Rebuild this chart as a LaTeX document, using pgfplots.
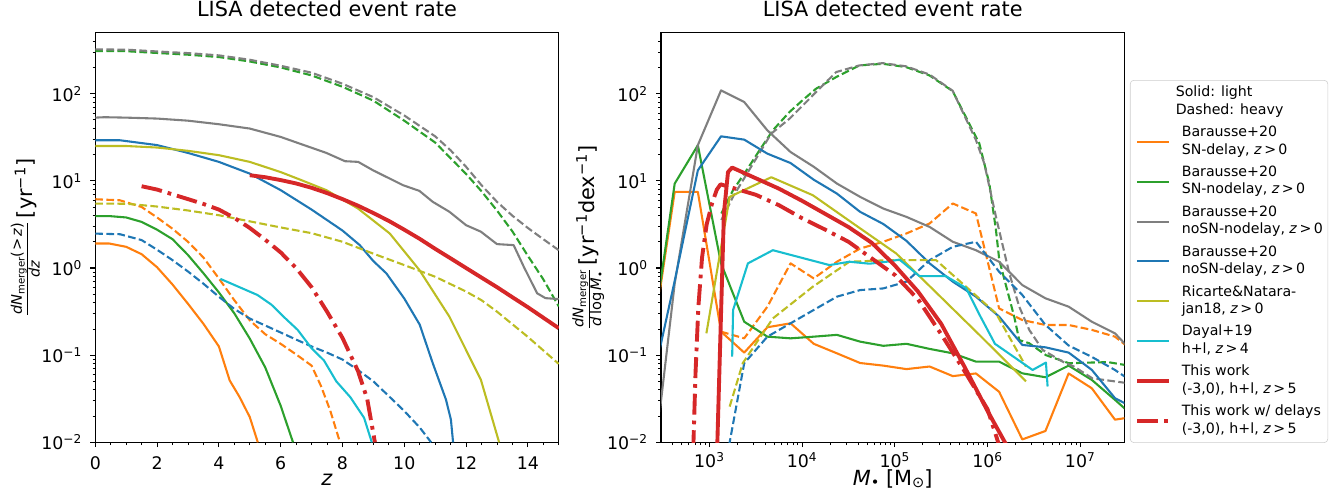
\documentclass[border=0pt]{standalone}
\usepackage{fontspec}
\setmainfont{DejaVu Sans}
\usepackage{pgfplots}
\pgfplotsset{compat=1.18}

% tab10 palette
\definecolor{tabblue}{HTML}{1F77B4}
\definecolor{taborange}{HTML}{FF7F0E}
\definecolor{tabgreen}{HTML}{2CA02C}
\definecolor{tabred}{HTML}{D62728}
\definecolor{tabgray}{HTML}{7F7F7F}
\definecolor{tabolive}{HTML}{BCBD22}
\definecolor{tabcyan}{HTML}{17BECF}

\newcommand{\fs}[1]{\fontsize{#1}{#1}\selectfont}
\newcommand{\tp}[1]{10\textsuperscript{#1}}
\newcommand{\zgt}[1]{\textit{z}\thinspace>\thinspace#1}

\tikzset{
  lightline/.style={line width=1.5pt, line join=round},
  heavyline/.style={line width=1.5pt, line join=round, dash pattern=on 5.55pt off 2.4pt},
  thiswork/.style={line width=2.8pt, line join=round, tabred},
  delays/.style={line width=2.8pt, line join=round, tabred,
    dash pattern=on 15pt off 4.3pt on 2.7pt off 4.3pt},
}

\begin{document}
\begin{tikzpicture}
\useasboundingbox (0,0) rectangle (962.64pt,352.08pt);

% ---------------- cumulative redshift distribution ----------------
\begin{axis}[
  scale only axis, width=333.7pt, height=294.9pt,
  at={(68.6pt,33.6pt)}, anchor=south west,
  ymode=log, ymin=0.01, ymax=500,
  ytick={0.01,0.1,1,10,100},
  yticklabels={\tp{−2},\tp{−1},\tp{0},\tp{1},\tp{2}},
  minor ytick={0.02,0.03,0.04,0.05,0.06,0.07,0.08,0.09,0.2,0.3,0.4,0.5,0.6,0.7,0.8,0.9,2,3,4,5,6,7,8,9,20,30,40,50,60,70,80,90,200,300,400},
  tick align=outside, xtick pos=left, ytick pos=left,
  major tick length=3.5pt, minor tick length=2pt,
  every tick/.style={black, line width=0.8pt},
  every minor tick/.style={black, line width=0.6pt},
  axis line style={black, line width=0.8pt},
  tick label style={font=\fontsize{12.5}{15}\selectfont},
  yticklabel style={anchor=east, inner sep=0pt, xshift=-5.8pt},
  title={LISA detected event rate},
  title style={font=\fontsize{15}{18}\selectfont, anchor=base, at={(0.5,1)}, yshift=5.5pt},
  xmin=0, xmax=15,
  xtick={0,2,...,14}, xticklabels={0,2,4,6,8,10,12,14},
  minor xtick={0.5,1,...,15},
  xticklabel style={anchor=base, yshift=-16pt},
  xlabel={\textit{z}},
  xlabel style={font=\fontsize{15}{18}\selectfont, at={(0.5,0)}, anchor=base, yshift=-30.8pt},
  ylabel={$\frac{\hbox{\fs{10.5}\itshape dN\kern0.3pt\raisebox{-2pt}{\fs{7.3}\upshape merger}\upshape(\kern1pt>\kern1pt\itshape z\upshape)}}{\hbox{\fs{10.5}\itshape dz}}$\,[yr\textsuperscript{−1}]},
  ylabel style={font=\fontsize{15}{18}\selectfont, at={(-0.1193,0.5)}, anchor=south, inner sep=0pt},
]
% Barausse+20 SN-delay
\addplot[lightline, taborange] coordinates {(0,1.91) (0.45,1.91) (1,1.75) (1.5,1.44) (2,1.02) (2.5,0.646) (3,0.389) (3.5,0.229) (4,0.126) (4.35,0.0513) (4.67,0.0331) (5,0.0195) (5.26,0.01)};
\addplot[heavyline, taborange] coordinates {(0,6.15) (0.8,5.98) (1.5,5.01) (2,3.80) (2.5,2.82) (3,2.0) (3.5,1.32) (4,0.759) (4.5,0.427) (5,0.251) (5.5,0.174) (6,0.135) (6.5,0.102) (7,0.0759) (7.3,0.0447) (7.6,0.0234) (7.92,0.01)};
% Barausse+20 SN-nodelay
\addplot[lightline, tabgreen] coordinates {(0,3.93) (0.5,3.93) (1,3.80) (1.5,3.38) (2,2.75) (2.5,2.14) (3,1.41) (3.5,0.871) (4,0.525) (4.5,0.302) (5,0.155) (5.5,0.0724) (6,0.0263) (6.4,0.01)};
\addplot[heavyline, tabgreen] coordinates {(0,309) (1,307) (2,293) (3,280) (4,263) (5,234) (6,200) (7,162) (8,120) (9,83.2) (10,49.0) (11,27.5) (12,12.0) (12.5,7.59) (13,4.57) (13.5,2.63) (14,1.38) (14.5,0.741) (15,0.363)};
% Barausse+20 noSN-nodelay
\addplot[lightline, tabgray] coordinates {(0,53.1) (0.3,53.7) (1,53.1) (2,51.8) (3,49.0) (4,44.6) (5,39.8) (6,31.9) (6.62,26.7) (7.48,20.9) (8.08,16.8) (8.51,16.5) (8.99,13.2) (9.42,11.1) (9.96,8.91) (10.49,7.67) (10.92,5.75) (11.46,4.42) (12.0,3.10) (12.48,2.61) (13.0,1.88) (13.54,1.83) (13.87,1.03) (14.3,0.513) (14.57,0.451) (15,0.440)};
\addplot[heavyline, tabgray] coordinates {(0,322) (1,320) (2,305) (3,292) (4,275) (5,245) (6,209) (7,174) (8,130) (9,91.2) (10,56.2) (11,32.4) (11.5,22.4) (12,14.5) (12.5,8.91) (13,5.75) (13.5,3.98) (14,2.88) (14.5,2.14) (15,1.60)};
% Barausse+20 noSN-delay
\addplot[lightline, tabblue] coordinates {(0,29.2) (0.8,29.2) (2,25.7) (3,20.9) (4,16.5) (5,12.1) (6,7.82) (7,4.68) (8,2.69) (8.56,1.83) (9,1.20) (9.42,0.869) (10,0.447) (10.5,0.224) (10.92,0.0813) (11.35,0.0309) (11.51,0.0182) (11.58,0.01)};
\addplot[heavyline, tabblue] coordinates {(0,2.48) (0.8,2.44) (1.5,2.09) (2,1.62) (2.5,1.23) (3,0.912) (3.5,0.661) (4,0.468) (4.5,0.339) (5,0.263) (5.5,0.219) (6,0.182) (6.5,0.151) (7,0.126) (7.5,0.107) (8,0.0891) (8.5,0.0676) (9,0.0501) (9.5,0.0339) (10,0.0229) (10.5,0.0148) (10.87,0.01)};
% Ricarte & Natarajan 18
\addplot[lightline, tabolive] coordinates {(0,25.1) (1,25.1) (2,24.1) (3,22.1) (4,19.7) (5,16.5) (6,12.6) (6.62,10.35) (7.48,7.82) (8.5,4.82) (9.53,2.49) (10.49,0.948) (11.46,0.277) (12.48,0.0522) (13.07,0.01)};
\addplot[heavyline, tabolive] coordinates {(0,5.48) (1,5.46) (2,5.07) (3,4.57) (4,4.03) (5,3.43) (6,2.92) (7,2.51) (8,2.0) (9,1.46) (10,1.08) (11,0.794) (12,0.537) (12.5,0.427) (13,0.316) (14,0.162) (15,0.0794)};
% Dayal+19
\addplot[lightline, tabcyan] coordinates {(4.05,0.75) (5.25,0.49) (5.7,0.38) (6.1,0.275) (6.55,0.195) (7.0,0.120) (7.4,0.0871) (7.8,0.0501) (8.25,0.0331) (8.7,0.0191) (8.95,0.01)};
% this work
\addplot[thiswork] coordinates {(5,11.6) (5.5,11.0) (6,10.2) (6.5,9.33) (7,8.32) (7.5,7.24) (8,6.17) (8.5,5.19) (9,4.27) (9.5,3.47) (10,2.75) (10.5,2.16) (11,1.66) (11.5,1.29) (12,1.00) (12.5,0.776) (13,0.603) (13.5,0.462) (14,0.355) (14.5,0.269) (15,0.204)};
\addplot[delays] coordinates {(1.5,8.67) (2,7.94) (3,6.17) (3.5,5.43) (4,4.68) (4.5,3.76) (5,2.88) (5.5,2.11) (6,1.51) (6.5,1.0) (7,0.603) (7.5,0.316) (8,0.158) (8.5,0.0661) (8.8,0.0316) (9.05,0.01)};
\end{axis}

% ---------------- mass distribution ----------------
\begin{axis}[
  scale only axis, width=333.7pt, height=294.9pt,
  at={(475.9pt,33.6pt)}, anchor=south west,
  ymode=log, ymin=0.01, ymax=500,
  ytick={0.01,0.1,1,10,100},
  yticklabels={\tp{−2},\tp{−1},\tp{0},\tp{1},\tp{2}},
  minor ytick={0.02,0.03,0.04,0.05,0.06,0.07,0.08,0.09,0.2,0.3,0.4,0.5,0.6,0.7,0.8,0.9,2,3,4,5,6,7,8,9,20,30,40,50,60,70,80,90,200,300,400},
  tick align=outside, xtick pos=left, ytick pos=left,
  major tick length=3.5pt, minor tick length=2pt,
  every tick/.style={black, line width=0.8pt},
  every minor tick/.style={black, line width=0.6pt},
  axis line style={black, line width=0.8pt},
  tick label style={font=\fontsize{12.5}{15}\selectfont},
  yticklabel style={anchor=east, inner sep=0pt, xshift=-5.8pt},
  title={LISA detected event rate},
  title style={font=\fontsize{15}{18}\selectfont, anchor=base, at={(0.5,1)}, yshift=5.5pt},
  xmode=log, xmin=300, xmax=3e7,
  xtick={1e3,1e4,1e5,1e6,1e7},
  xticklabels={\tp{3},\tp{4},\tp{5},\tp{6},\tp{7}},
  minor xtick={400,500,600,700,800,900,2000,3000,4000,5000,6000,7000,8000,9000,2e4,3e4,4e4,5e4,6e4,7e4,8e4,9e4,2e5,3e5,4e5,5e5,6e5,7e5,8e5,9e5,2e6,3e6,4e6,5e6,6e6,7e6,8e6,9e6,2e7},
  xticklabel style={anchor=base, yshift=-14.4pt},
  xlabel={\textit{M}\raisebox{-1pt}{\fs{10.5}•}\ [M\raisebox{-1pt}{\fs{10.5}⊙}]},
  xlabel style={font=\fontsize{15}{18}\selectfont, at={(0.5,0)}, anchor=base, yshift=-31.4pt},
  ylabel={$\frac{\hbox{\fs{10.5}\itshape dN\kern0.3pt\raisebox{-2pt}{\fs{7.3}\upshape merger}}}{\hbox{\fs{10.5}\itshape d\upshape\,log\,\itshape M\raisebox{-2pt}{\fs{7.3}\upshape •}}}$\,[yr\textsuperscript{−1}dex\textsuperscript{−1}]},
  ylabel style={font=\fontsize{15}{18}\selectfont, at={(-0.1221,0.5)}, anchor=south, inner sep=0pt},
  legend style={at={(1.0119,0.8845)}, anchor=north west,
    draw=black!20, rounded corners=2.5pt, fill=white,
    font=\fontsize{10.2}{12.6}\selectfont,
    inner xsep=3.6pt, inner ysep=3pt, row sep=3.5pt,
    /tikz/column sep=7.9pt,
    nodes={inner sep=0pt, text depth=, text height=},
    cells={align=left, inner sep=0pt}},
  legend cell align=left,
  legend image code/.code={\draw[#1] (0pt,0pt) -- (22.8pt,0pt);},
]
% Barausse+20 SN-delay
\addplot[lightline, taborange, forget plot] coordinates {(237.1,0.126) (421.7,7.46) (749.9,7.46) (1333.5,0.186) (2371,0.107) (4217,0.209) (7499,0.232) (13335,0.135) (23714,0.105) (42170,0.0813) (74989,0.0759) (133352,0.0692) (237137,0.0741) (421697,0.0575) (749894,0.0617) (1333521,0.038) (2371374,0.0108) (4216965,0.0135) (7498942,0.0617) (13335214,0.0417) (23713737,0.0182) (42169650,0.02)};
\addplot[heavyline, taborange, forget plot] coordinates {(1333.5,0.186) (2371,0.156) (4217,0.360) (7499,1.13) (13335,0.76) (23714,1.18) (42170,1.67) (74989,2.0) (133352,2.49) (237137,3.24) (421697,5.5) (749894,4.22) (1333521,0.344) (2371374,0.253) (4216965,0.222) (7498942,0.222) (13335214,0.195) (23713737,0.163) (42169650,0.1)};
% Barausse+20 SN-nodelay
\addplot[lightline, tabgreen, forget plot] coordinates {(237.1,0.132) (421.7,9.29) (749.9,25.6) (1333.5,1.13) (2371,0.242) (4217,0.163) (7499,0.156) (13335,0.163) (23714,0.171) (42170,0.143) (74989,0.128) (133352,0.135) (237137,0.118) (421697,0.105) (749894,0.0843) (1333521,0.0843) (2371374,0.0619) (4216965,0.0558) (7498942,0.0759) (13335214,0.052) (23713737,0.0307) (42169650,0.0178)};
\addplot[heavyline, tabgreen, forget plot] coordinates {(1343,4.22) (1791,7.76) (2512,13.2) (3467,22.4) (4831,38.0) (7311,61.7) (1e4,83.2) (14125,114) (23281,155) (41495,211) (74131,220) (131826,202) (236048,162) (420727,107) (690240,38.0) (814704,26.9) (1044720,9.33) (1233105,2.72) (1339691,1.23) (1940886,0.276) (2197860,0.149) (2818383,0.137) (4265795,0.1) (7585776,0.0807) (12589254,0.0822) (19952623,0.0832) (31622777,0.0767)};
% Barausse+20 noSN-nodelay
\addplot[lightline, tabgray, forget plot] coordinates {(237.1,0.00347) (421.7,0.661) (749.9,25.7) (1333.5,109) (2371,80.2) (4217,37.9) (7499,21.4) (13335,14.5) (23714,9.31) (42170,6.55) (74989,4.81) (133352,3.86) (237137,2.96) (421697,2.0) (749894,1.60) (1333521,1.18) (2371374,0.637) (4216965,0.449) (7498942,0.360) (13335214,0.242) (23713737,0.178) (42169650,0.0933)};
\addplot[heavyline, tabgray, forget plot] coordinates {(1343,3.54) (1791,6.55) (2818,14.5) (4624,34.7) (7311,51.6) (13032,95.5) (23281,177) (41495,211) (74131,224) (131826,206) (236048,166) (420727,108) (751623,29.2) (922571,15.8) (1233105,3.86) (1717908,0.867) (2197860,0.360) (2818383,0.195) (3926449,0.115) (6456542,0.0843) (8609938,0.0738) (13489629,0.0543) (31622777,0.0479)};
% Barausse+20 noSN-delay
\addplot[lightline, tabblue, forget plot] coordinates {(237.1,0.0433) (421.7,0.711) (749.9,13.2) (1333.5,32.4) (2371,29.7) (4217,20.5) (7499,16.0) (13335,10.3) (23714,7.14) (42170,4.41) (74989,3.20) (133352,2.05) (237137,1.13) (421697,0.697) (749894,0.469) (1333521,0.277) (2371374,0.131) (4216965,0.123) (7498942,0.107) (13335214,0.0678) (23713737,0.0321) (42169650,0.0234)};
\addplot[heavyline, tabblue, forget plot] coordinates {(1333.5,0.0029) (2371,0.0807) (4217,0.163) (7499,0.232) (13335,0.330) (23714,0.469) (42170,0.558) (74989,0.583) (133352,0.697) (237137,1.23) (421697,1.75) (749894,2.0) (1333521,0.906) (2371374,0.490) (4216965,0.222) (7498942,0.129) (13335214,0.0955) (23713737,0.0676) (42169650,0.0447)};
% Ricarte & Natarajan 18
\addplot[lightline, tabolive, forget plot] coordinates {(927,0.178) (1652,6.55) (4645,11.0) (13032,6.84) (36728,3.16) (103276,1.47) (291072,0.501) (820352,0.170) (2600160,0.0501)};
\addplot[heavyline, tabolive, forget plot] coordinates {(1652,0.0257) (2291,0.0813) (4831,0.264) (13032,0.610) (32359,1.18) (87096,1.23) (278612,1.23) (586138,0.610) (1233105,0.302) (2600160,0.0739)};
% Dayal+19
\addplot[lightline, tabcyan, forget plot] coordinates {(1758,0.0961) (1799,0.330) (2600,1.13) (4831,1.60) (19724,1.08) (32359,1.18) (53211,1.12) (87297,1.19) (112202,1.25) (184077,0.807) (354813,0.807) (586138,0.589) (831764,0.282) (1202264,0.135) (3062862,0.0676) (4265795,0.0822) (4446313,0.0437)};
% this work
\addplot[thiswork, forget plot] coordinates {(1202,0.00631) (1432,4.22) (1585,12.6) (1758,14.2) (3162,10.7) (5623,8.13) (1e4,5.89) (17783,4.17) (31623,2.95) (56234,1.95) (1e5,1.07) (177828,0.537) (316228,0.229) (562341,0.0741) (1e6,0.0229) (1737801,0.00794)};
\addplot[delays, forget plot] coordinates {(668,0.00794) (708,0.0631) (759,0.355) (832,1.32) (933,3.16) (1072,5.62) (1202,7.94) (1318,9.12) (3162,6.92) (5623,5.25) (1e4,3.72) (17783,2.75) (31623,2.0) (56234,1.29) (1e5,0.832) (177828,0.437) (316228,0.174) (562341,0.0661) (1e6,0.024) (1349000,0.00891)};

% legend
\addlegendimage{empty legend}
\addlegendentry{\hspace*{-4.3pt}\begin{tabular}{@{}l@{}}Solid: light\\Dashed: heavy\end{tabular}}
\addlegendimage{lightline, taborange}
\addlegendentry{\strut Barausse+20\\\strut SN-delay, \zgt{0}}
\addlegendimage{lightline, tabgreen}
\addlegendentry{\strut Barausse+20\\\strut SN-nodelay, \zgt{0}}
\addlegendimage{lightline, tabgray}
\addlegendentry{\strut Barausse+20\\\strut noSN-nodelay, \zgt{0}}
\addlegendimage{lightline, tabblue}
\addlegendentry{\strut Barausse+20\\\strut noSN-delay, \zgt{0}}
\addlegendimage{lightline, tabolive}
\addlegendentry{\strut Ricarte\&Natara-\\\strut jan18, \zgt{0}}
\addlegendimage{lightline, tabcyan}
\addlegendentry{\strut Dayal+19\\\strut h+l, \zgt{4}}
\addlegendimage{thiswork}
\addlegendentry{\strut This work\\\strut (-3,0), h+l, \zgt{5}}
\addlegendimage{delays}
\addlegendentry{\strut This work w/ delays\\\strut (-3,0), h+l, \zgt{5}}
\end{axis}
\end{tikzpicture}
\end{document}
